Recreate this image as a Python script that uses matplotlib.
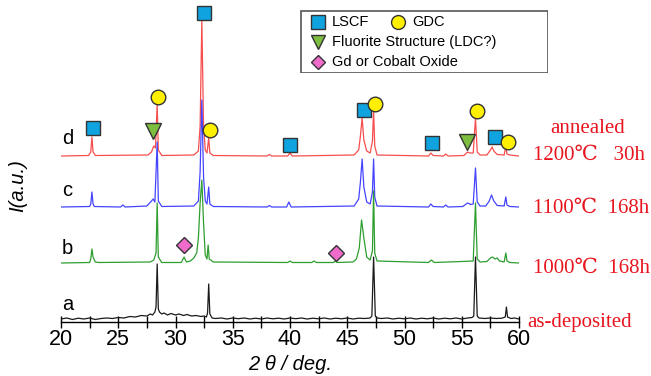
import matplotlib
matplotlib.use("Agg")
import matplotlib.pyplot as plt
from matplotlib.patches import Rectangle

W, H = 651, 376

# ---------------- data (2theta in deg, intensity in arbitrary units) ----------------
tt_d = [20.0, 22.4, 22.6, 22.7, 22.8, 23.0, 27.6, 27.9, 28.1, 28.25, 28.4, 28.5, 28.8,
        31.6, 32.0, 32.15, 32.3, 32.45, 32.6, 32.75, 32.9, 33.0, 33.3, 38.0, 38.2, 38.4,
        39.8, 40.0, 40.2, 45.6, 46.0, 46.15, 46.3, 46.45, 46.7, 47.0, 47.2, 47.3, 47.4,
        47.6, 52.1, 52.3, 52.5, 53.4, 53.6, 53.8, 55.2, 55.5, 55.7, 56.0, 56.2, 56.35,
        56.6, 57.2, 57.5, 57.65, 57.8, 58.1, 58.7, 58.85, 58.95, 59.2, 60.0]
I_d = [0, 0.5, 4, 19, 4, 0.5, 1, 4, 10, 8, 52, 6, 0.5,
       1, 5, 30, 136, 30, 6, 3, 18, 3, 0.5, 0, 1.5, 0,
       0, 3, 0, 1, 6, 20, 38, 16, 5, 3, 15, 46, 10,
       1, 0, 3, 0.5, 0, 2, 0, 0.5, 4, 3, 3, 38, 4,
       1, 1, 6, 9, 5, 1.5, 1, 9, 2, 1, 0]

tt_c = [20.0, 22.5, 22.6, 22.7, 22.8, 22.9, 25.2, 25.4, 25.6, 27.5, 27.9, 28.05, 28.2,
        28.4, 28.5, 28.8, 31.6, 32.0, 32.15, 32.3, 32.45, 32.6, 32.75, 32.9, 33.0, 33.3,
        38.0, 38.2, 38.4, 39.7, 39.9, 40.1, 45.6, 46.0, 46.15, 46.3, 46.45, 46.7, 47.0,
        47.2, 47.3, 47.4, 47.6, 52.1, 52.3, 52.5, 53.4, 53.6, 53.8, 55.1, 55.5, 55.8,
        56.0, 56.2, 56.35, 56.6, 57.1, 57.4, 57.6, 57.8, 58.1, 58.7, 58.85, 58.95, 59.2, 60.0]
I_c = [0, 0.5, 3, 15, 3, 0.5, 0, 2, 0, 1, 6, 8, 5,
       65, 6, 0.5, 1, 6, 35, 107, 30, 6, 3, 20, 3, 0.5,
       0, 1.5, 0, 0, 5, 0, 1, 8, 25, 48, 20, 5, 3,
       15, 48, 10, 1, 0, 3, 0.5, 0, 2, 0, 0.5, 4, 2.5,
       3, 39, 5, 1, 1, 6, 12, 6, 1.5, 1, 10, 2, 0.5, 0]

tt_b = [20.0, 22.5, 22.6, 22.7, 22.8, 23.0, 23.3, 27.8, 28.1, 28.3, 28.4, 28.5, 28.8,
        30.5, 30.75, 30.95, 31.3, 31.6, 31.85, 32.0, 32.15, 32.3, 32.45, 32.6, 32.75,
        32.85, 32.95, 33.3, 39.8, 40.0, 40.2, 41.9, 42.1, 42.3, 43.8, 43.95, 44.1, 45.5,
        45.8, 46.05, 46.25, 46.45, 46.7, 47.0, 47.2, 47.3, 47.4, 47.6, 52.1, 52.35, 52.6,
        55.0, 56.0, 56.2, 56.35, 56.6, 57.2, 57.5, 57.7, 57.9, 58.1, 58.3, 58.7, 58.85,
        58.95, 59.2, 60.0]
I_b = [0, 0.5, 4, 14, 6, 1, 0.5, 1, 3, 10, 60, 6, 0.5,
       0.5, 6, 1, 2, 5, 10, 25, 60, 83, 40, 8, 4,
       18, 4, 1, 0.5, 2, 0.5, 0.5, 2, 0.5, 0.5, 2, 0.5, 1,
       4, 15, 43, 25, 6, 3, 12, 72, 10, 2, 0.5, 3, 0.5,
       1.5, 2, 60, 4, 1, 1.5, 5, 6, 4, 5, 2, 1, 10,
       2, 0.5, 0]

tt_a = [20.0, 20.5, 21.0, 21.5, 22.0, 22.5, 23.0, 23.5, 24.0, 24.5, 25.0, 25.5, 26.0,
        26.5, 27.0, 27.5, 27.8, 28.0, 28.2, 28.3, 28.4, 28.5, 28.6, 28.8, 29.0, 29.3,
        29.6, 30.0, 30.3, 30.7, 31.0, 31.4, 31.8, 32.2, 32.5, 32.7, 32.8, 32.9, 33.0,
        33.2, 33.5, 34.0, 34.5, 35.0, 35.5, 36.0, 36.5, 37.0, 37.5, 38.0, 38.5, 39.0,
        39.5, 40.0, 40.5, 41.0, 41.5, 42.0, 42.5, 43.0, 43.5, 44.0, 44.5, 45.0, 45.5,
        46.0, 46.5, 47.0, 47.15, 47.3, 47.45, 47.6, 48.0, 48.5, 49.0, 49.5, 50.0, 50.5,
        51.0, 51.5, 52.0, 52.5, 53.0, 53.5, 54.0, 54.5, 55.0, 55.5, 55.9, 56.05, 56.2,
        56.35, 56.5, 57.0, 57.5, 58.0, 58.5, 58.8, 58.9, 59.0, 59.3, 59.6, 60.0]
I_a = [0, 1, -0.5, 0.8, 0, 1, -0.5, 0.5, 1, 0.5, 1.5, 1, 2.5,
       2, 3.5, 3, 5, 4, 7, 12, 55, 10, 7, 5, 6, 4,
       5.5, 4, 5, 3.5, 4.5, 3, 3.5, 2.5, 3, 2, 6, 35, 5,
       1, 0.5, 1, 0, 1, 0.3, 1, 0, 0.8, 0, 1, 0.2, 0.8,
       0, 1, 0.3, 1, 0, 0.8, 0.2, 1, 0, 0.8, 0.2, 1, 0,
       0.8, 0.5, 1, 3, 62, 3, 1, 0.5, 1, 0, 0.8, 0.2, 1,
       0, 0.8, 0.2, 1, 0, 0.8, 0.2, 1, 0, 1, 1.5, 3, 62,
       3, 1, 0.5, 1, 0.5, 0.8, 2, 12, 2, 0.5, 1, 0]

offsets = {"a": 3, "b": 59, "c": 115, "d": 166}
curve_labels = ["a", "b", "c", "d"]
conditions = ["as-deposited", "1000\u2103  168h", "1100\u2103  168h", "1200\u2103   30h"]

# phase markers (2theta, height)
lscf_x = [22.8, 32.5, 40.0, 46.5, 52.4, 57.9]
lscf_y = [194, 309, 177, 212, 179, 185]
gdc_x = [28.5, 33.0, 47.4, 56.3, 59.0]
gdc_y = [225, 192, 218, 211, 180]
fl_x = [28.0, 55.5]
fl_y = [191, 180]
ox_x = [30.7, 44.0]
ox_y = [77, 69]

legend_labels = ["LSCF", "GDC", "Fluorite Structure (LDC?)", "Gd or Cobalt Oxide"]

# ---------------- styles ----------------
c_sq = "#0FA3DF"
c_ci = "#FFF000"
c_tr = "#7DBD3F"
c_di = "#F06CCB"
edge = "#333333"
red_txt = "#E8141E"

fig = plt.figure(figsize=(W / 100, H / 100), dpi=100)

def fx(px):
    return px / W

def fy(py):
    return 1 - py / H

ax = fig.add_axes([fx(61), fy(322), fx(519) - fx(61), fy(5) - fy(322)])
ax.set_xlim(20, 60)
ax.set_ylim(0, 317)

traces = [("d", tt_d, I_d, "#F74E4E"), ("c", tt_c, I_c, "#4444FF"),
          ("b", tt_b, I_b, "#2E9E2E"), ("a", tt_a, I_a, "#1A1A1A")]
for z, (k, tt, ii, col) in enumerate(traces):
    ax.plot(tt, [v + offsets[k] for v in ii], color=col, lw=0.9, zorder=2 + z)

mk = dict(linestyle="none", markeredgecolor=edge, markeredgewidth=1.0, zorder=10, clip_on=False)
ax.plot(lscf_x, lscf_y, marker="s", markersize=10, markerfacecolor=c_sq, **mk)
ax.plot(gdc_x, gdc_y, marker="o", markersize=10.5, markerfacecolor=c_ci, **mk)
ax.plot(fl_x, fl_y, marker="v", markersize=11, markerfacecolor=c_tr, **mk)
ax.plot(ox_x, ox_y, marker="D", markersize=8, markerfacecolor=c_di, **mk)

# curve letters
for k, ypx in zip(curve_labels, [305, 248, 190, 139]):
    ax.text(20.1, 322 - ypx, k, fontsize=14.5, family="Liberation Sans",
            ha="left", va="center")

for s in ["top", "left", "right"]:
    ax.spines[s].set_visible(False)
ax.spines["bottom"].set_linewidth(1.0)
ax.set_yticks([])
ax.set_xticks([20, 25, 30, 35, 40, 45, 50, 55, 60])
ax.set_xticks([22.5, 27.5, 32.5, 37.5, 42.5, 47.5, 52.5, 57.5], minor=True)
ax.tick_params(axis="x", which="both", direction="inout", length=8, width=1.0,
               labelsize=15.5, pad=1)
for lab in ax.get_xticklabels():
    lab.set_family("Liberation Sans")

fig.text(fx(290), fy(364), "2 \u03b8 / deg.", fontsize=14.5, style="italic",
         family="Liberation Sans", ha="center", va="center")
fig.text(fx(18), fy(186), "I(a.u.)", fontsize=14.5, style="italic", rotation=90,
         family="Liberation Sans", ha="center", va="center")

# right-side condition labels
serif = ["Liberation Serif", "DejaVu Serif", "Noto Sans CJK JP"]
fig.text(fx(588), fy(128), "annealed", fontsize=15, color=red_txt,
         family=serif, ha="center", va="center")
for t, ypx, xl in zip(conditions, [322, 268, 208, 155], [527, 533, 533, 533]):
    fig.text(fx(xl), fy(ypx), t, fontsize=15, color=red_txt, family=serif,
             ha="left", va="center")

# legend box
lg = fig.add_axes([fx(300), fy(73), fx(548) - fx(300), fy(10) - fy(73)])
lg.set_xlim(300, 548)
lg.set_ylim(73, 10)
lg.axis("off")
lg.add_patch(Rectangle((300.5, 10.5), 247, 62, facecolor="white", edgecolor="#555555",
                       lw=1.2, zorder=1))
lm = dict(linestyle="none", markeredgecolor=edge, markeredgewidth=1.0, zorder=3)
lg.plot([318], [22], marker="s", markersize=9.5, markerfacecolor=c_sq, **lm)
lg.plot([398], [22], marker="o", markersize=10, markerfacecolor=c_ci, **lm)
lg.plot([318], [42], marker="v", markersize=10, markerfacecolor=c_tr, **lm)
lg.plot([318], [62], marker="D", markersize=7.5, markerfacecolor=c_di, **lm)
for t, xx, yy in zip(legend_labels, [332, 412, 332, 332], [22, 22, 42, 62]):
    lg.text(xx, yy, t, fontsize=10.5, family="Liberation Sans", ha="left",
            va="center", zorder=3)

fig.savefig("out.png", dpi=100)
